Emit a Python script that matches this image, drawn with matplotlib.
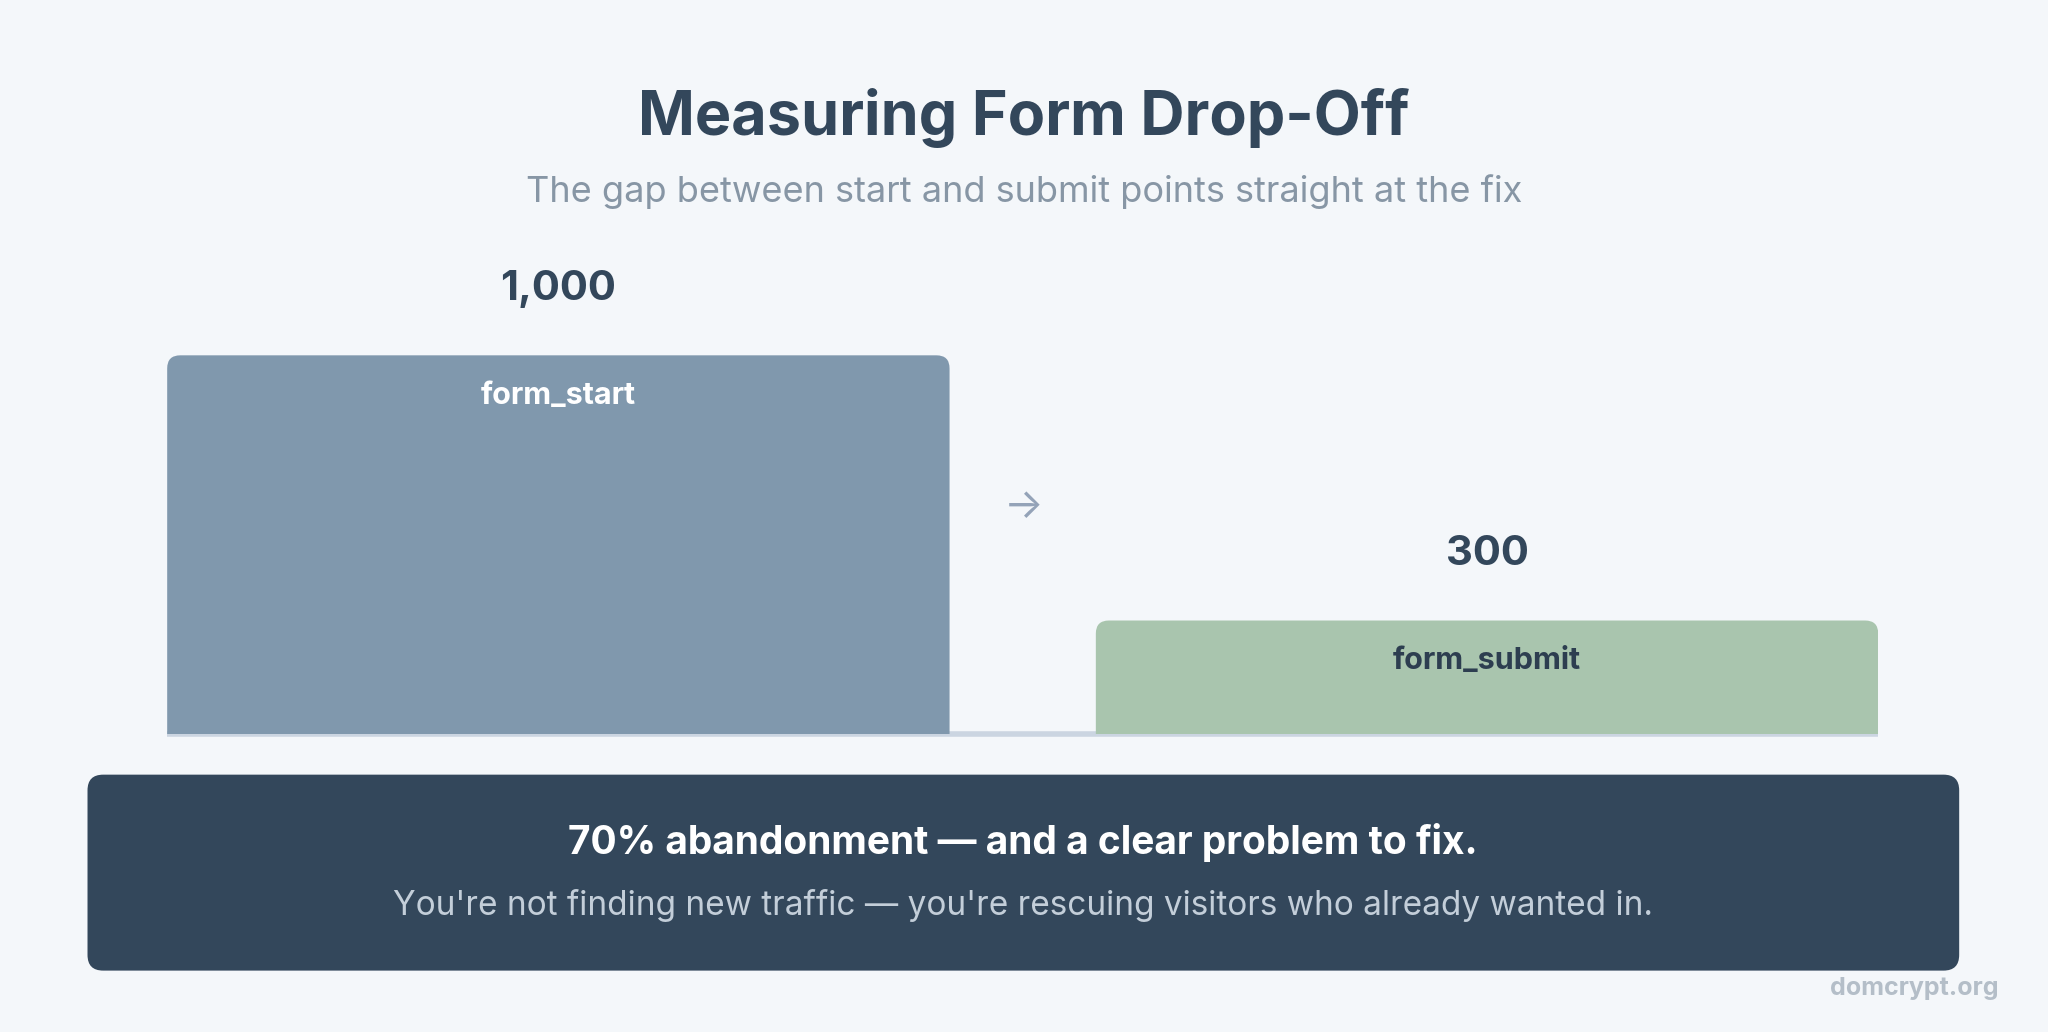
import matplotlib.pyplot as plt
from matplotlib.patches import FancyBboxPatch

plt.rcParams['font.family'] = ['Inter', 'DejaVu Sans']

# data
steps = ['form_start', 'form_submit']
counts = [1000, 300]
value_labels = ['1,000', '300']
bar_colors = ['#8098ad', '#a9c5ae']
label_colors = ['white', '#2d3e50']

W, H = 1568, 790  # layout grid of the reference
bg = '#f4f7fa'
dark = '#33475b'

fig = plt.figure(figsize=(20.48, 10.32), dpi=100, facecolor=bg)
ov = fig.add_axes([0, 0, 1, 1], facecolor='none')
ov.set_xlim(0, W)
ov.set_ylim(H, 0)
ov.axis('off')

ov.text(W / 2, 90, 'Measuring Form Drop-Off', ha='center', va='center',
        fontsize=44, fontweight='bold', color=dark)
ov.text(W / 2, 147, 'The gap between start and submit points straight at the fix',
        ha='center', va='center', fontsize=26, color='#8796a5')

# bar axes
x0, x1, base, top = 128, 1438, 562, 272
ax = fig.add_axes([x0 / W, (H - base) / H, (x1 - x0) / W, (base - top) / H], facecolor='none')
w = 599 / 711
ax.set_xlim(-w / 2, 1 + w / 2)
ax.set_ylim(0, max(counts))
ax.axis('off')
px_x = (x1 - x0) / (1 + w)
px_y = (base - top) / max(counts)
r = 10 / px_x
asp = (10 / px_y) / r
bars = ax.bar(range(len(steps)), counts, width=w, color='none')
for b, c, col, lab, vl, lc in zip(bars, counts, bar_colors, steps, value_labels, label_colors):
    p = FancyBboxPatch((b.get_x(), -60), b.get_width(), c + 60,
                       boxstyle=f'round,pad=0,rounding_size={r}',
                       mutation_aspect=asp, fc=col, ec='none', clip_on=True)
    ax.add_patch(p)
    xc = b.get_x() + b.get_width() / 2
    ax.annotate(vl, (xc, c), xytext=(0, 48), textcoords='offset points',
                ha='center', va='center', fontsize=30, fontweight='bold', color=dark)
    ax.annotate(lab, (xc, c), xytext=(0, -29), textcoords='offset points',
                ha='center', va='center', fontsize=22, fontweight='bold', color=lc)

ov.plot([x0, x1], [562, 562], color='#cbd5e1', lw=4, solid_capstyle='butt')
ov.text(784, 388, '→', ha='center', va='center', fontsize=30, color='#94a3b8')

# banner
ov.add_patch(FancyBboxPatch((67, 593), 1433, 150, boxstyle='round,pad=0,rounding_size=12',
                            fc=dark, ec='none'))
ov.text(W / 2 - 1, 645, '70% abandonment — and a clear problem to fix.', ha='center',
        va='center', fontsize=28, fontweight='bold', color='white')
ov.text(W / 2 - 1, 693, "You're not finding new traffic — you're rescuing visitors who already wanted in.",
        ha='center', va='center', fontsize=24, color='#c3ced9')

ov.text(1530, 757, 'domcrypt.org', ha='right', va='center', fontsize=18,
        fontweight='bold', color='#b4bec8')

fig.savefig('out.png', dpi=100, facecolor=bg)
